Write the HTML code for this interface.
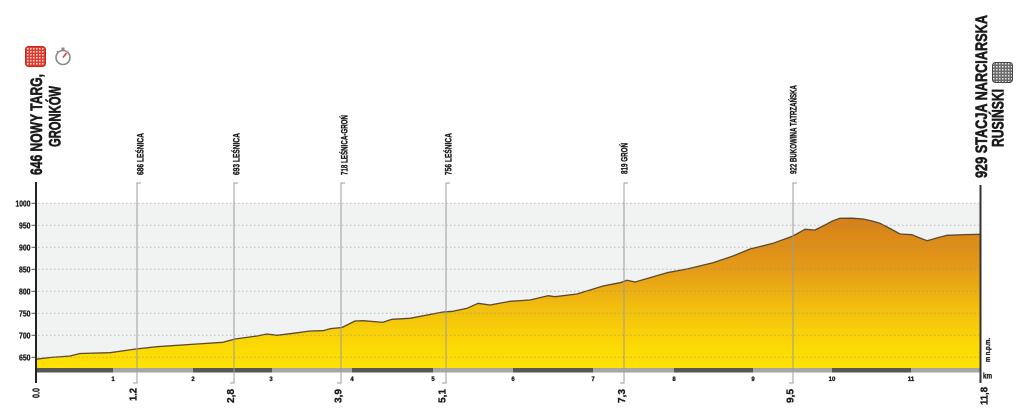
<!DOCTYPE html>
<html>
<head>
<meta charset="utf-8">
<style>
  html, body { margin: 0; padding: 0; background: #ffffff; }
  body { width: 1024px; height: 414px; overflow: hidden; }
  svg { display: block; }
  text { font-family: "Liberation Sans", "DejaVu Sans", sans-serif; font-weight: bold; fill: #1a1a1a; stroke: #1a1a1a; stroke-width: 0.3; }
  .big { stroke-width: 0.6; }
</style>
</head>
<body>
<svg width="1024" height="414" viewBox="0 0 1024 414" xmlns="http://www.w3.org/2000/svg">
  <defs>
    <linearGradient id="fillg" gradientUnits="userSpaceOnUse" x1="0" y1="218" x2="0" y2="368">
      <stop offset="0" stop-color="#d57f1b"/>
      <stop offset="0.35" stop-color="#e59c17"/>
      <stop offset="0.6" stop-color="#f2bf0f"/>
      <stop offset="0.85" stop-color="#fcd905"/>
      <stop offset="1" stop-color="#ffe200"/>
    </linearGradient>
    <pattern id="redchk" x="0" y="0" width="3" height="3" patternUnits="userSpaceOnUse">
      <rect width="3" height="3" fill="#e23b2e"/>
      <rect x="0" y="0" width="1.5" height="1.5" fill="#ffffff" opacity="0.85"/>
    </pattern>
    <pattern id="graychk" x="0" y="0" width="3" height="3" patternUnits="userSpaceOnUse">
      <rect width="3" height="3" fill="#6a6a6a"/>
      <rect x="0" y="0" width="1.5" height="1.5" fill="#ffffff" opacity="0.8"/>
    </pattern>
  </defs>

  <!-- plot background -->
  <rect x="36" y="203" width="944" height="165" fill="#f1f2f2"/>

  <!-- profile fill -->
  <path d="M36,359.2 L50,357.5 L70,356 L80,353.5 L110,352.7 L136,349 L157,346.7 L197,344 L223,342.3 L235,339 L257,336 L267,334 L277,335.3 L293,333.3 L310,331 L323,330.7 L330,328.7 L342,327.5 L355,321 L363,320.7 L383,322.3 L392,319.3 L410,318.3 L443,312 L453,311.3 L467,308.3 L478,303.3 L490,305 L510,301.3 L530,300 L548,295.7 L555,296.7 L577,294 L603,286 L620,282.7 L627,280.3 L635,282 L667,272.7 L687,269 L713,262.7 L733,256 L750,249 L773,243.3 L793,236 L805,229.3 L815,230 L825,225 L833,220.7 L840,218.3 L852,218.2 L863,219 L872,221 L880,223.3 L890,228.5 L900,234 L912,234.7 L920,238 L927,240.7 L935,238.5 L947,235.3 L965,234.6 L980,234.3 L980,368 L36,368 Z" fill="url(#fillg)"/>
  <path d="M36,359.2 L50,357.5 L70,356 L80,353.5 L110,352.7 L136,349 L157,346.7 L197,344 L223,342.3 L235,339 L257,336 L267,334 L277,335.3 L293,333.3 L310,331 L323,330.7 L330,328.7 L342,327.5 L355,321 L363,320.7 L383,322.3 L392,319.3 L410,318.3 L443,312 L453,311.3 L467,308.3 L478,303.3 L490,305 L510,301.3 L530,300 L548,295.7 L555,296.7 L577,294 L603,286 L620,282.7 L627,280.3 L635,282 L667,272.7 L687,269 L713,262.7 L733,256 L750,249 L773,243.3 L793,236 L805,229.3 L815,230 L825,225 L833,220.7 L840,218.3 L852,218.2 L863,219 L872,221 L880,223.3 L890,228.5 L900,234 L912,234.7 L920,238 L927,240.7 L935,238.5 L947,235.3 L965,234.6 L980,234.3" fill="none" stroke="#5a4a32" stroke-width="1.3" stroke-linejoin="round"/>

  <!-- gridlines -->
  <g stroke="#8a8a8a" stroke-width="1" stroke-dasharray="1.5,2.5" opacity="0.55">
    <line x1="38" y1="203.3" x2="979" y2="203.3"/>
    <line x1="38" y1="225.3" x2="979" y2="225.3"/>
    <line x1="38" y1="247.3" x2="979" y2="247.3"/>
    <line x1="38" y1="269.3" x2="979" y2="269.3"/>
    <line x1="38" y1="291.3" x2="979" y2="291.3"/>
    <line x1="38" y1="313.3" x2="979" y2="313.3"/>
    <line x1="38" y1="335.3" x2="979" y2="335.3"/>
    <line x1="38" y1="357.3" x2="979" y2="357.3"/>
  </g>

  <!-- km bar -->
  <g>
    <rect x="36" y="368" width="77" height="4.5" fill="#565656"/>
    <rect x="113" y="368" width="80" height="4.5" fill="#a6a6a6"/>
    <rect x="193" y="368" width="79" height="4.5" fill="#565656"/>
    <rect x="272" y="368" width="80" height="4.5" fill="#a6a6a6"/>
    <rect x="352" y="368" width="81" height="4.5" fill="#565656"/>
    <rect x="433" y="368" width="80" height="4.5" fill="#a6a6a6"/>
    <rect x="513" y="368" width="80" height="4.5" fill="#565656"/>
    <rect x="593" y="368" width="81" height="4.5" fill="#a6a6a6"/>
    <rect x="674" y="368" width="79" height="4.5" fill="#565656"/>
    <rect x="753" y="368" width="79" height="4.5" fill="#a6a6a6"/>
    <rect x="832" y="368" width="79" height="4.5" fill="#565656"/>
    <rect x="911" y="368" width="69" height="4.5" fill="#a6a6a6"/>
  </g>

  <!-- km numbers -->
  <g font-size="6" text-anchor="middle">
    <text x="113" y="381">1</text>
    <text x="193" y="381">2</text>
    <text x="271" y="381">3</text>
    <text x="352" y="381">4</text>
    <text x="433" y="381">5</text>
    <text x="513" y="381">6</text>
    <text x="593" y="381">7</text>
    <text x="674" y="381">8</text>
    <text x="753" y="381">9</text>
    <text x="832" y="381">10</text>
    <text x="911" y="381">11</text>
  </g>

  <!-- marker lines -->
  <g stroke="#9c9c9c" stroke-width="1" fill="none">
    <path d="M141,183 L137,183 L137,383 L133,383"/>
    <path d="M238,183 L234,183 L234,383 L230,383"/>
    <path d="M345,183 L341,183 L341,383 L337,383"/>
    <path d="M450,183 L446,183 L446,383 L442,383"/>
    <path d="M628,183 L624,183 L624,383 L620,383"/>
    <path d="M797,183 L793,183 L793,383 L789,383"/>
  </g>

  <!-- axes -->
  <line x1="36" y1="182" x2="36" y2="383" stroke="#222" stroke-width="2"/>
  <line x1="980.5" y1="185" x2="980.5" y2="383" stroke="#333" stroke-width="2"/>

  <!-- y ticks -->
  <g stroke="#555" stroke-width="1">
    <line x1="31.5" y1="203.3" x2="35" y2="203.3"/>
    <line x1="31.5" y1="225.3" x2="35" y2="225.3"/>
    <line x1="31.5" y1="247.3" x2="35" y2="247.3"/>
    <line x1="31.5" y1="269.3" x2="35" y2="269.3"/>
    <line x1="31.5" y1="291.3" x2="35" y2="291.3"/>
    <line x1="31.5" y1="313.3" x2="35" y2="313.3"/>
    <line x1="31.5" y1="335.3" x2="35" y2="335.3"/>
    <line x1="31.5" y1="357.3" x2="35" y2="357.3"/>
  </g>
  <g font-size="8.5" text-anchor="end">
    <text x="30.5" y="206.3" textLength="15" lengthAdjust="spacingAndGlyphs">1000</text>
    <text x="30.5" y="228.3" textLength="11.5" lengthAdjust="spacingAndGlyphs">950</text>
    <text x="30.5" y="250.3" textLength="11.5" lengthAdjust="spacingAndGlyphs">900</text>
    <text x="30.5" y="272.3" textLength="11.5" lengthAdjust="spacingAndGlyphs">850</text>
    <text x="30.5" y="294.3" textLength="11.5" lengthAdjust="spacingAndGlyphs">800</text>
    <text x="30.5" y="316.3" textLength="11.5" lengthAdjust="spacingAndGlyphs">750</text>
    <text x="30.5" y="338.3" textLength="11.5" lengthAdjust="spacingAndGlyphs">700</text>
    <text x="30.5" y="360.3" textLength="11.5" lengthAdjust="spacingAndGlyphs">650</text>
  </g>

  <!-- marker labels (top) -->
  <g font-size="9">
    <text transform="translate(143.5,175) rotate(-90)" textLength="42" lengthAdjust="spacingAndGlyphs">686 LEŚNICA</text>
    <text transform="translate(239.5,175) rotate(-90)" textLength="42" lengthAdjust="spacingAndGlyphs">693 LEŚNICA</text>
    <text transform="translate(347.5,175) rotate(-90)" textLength="60" lengthAdjust="spacingAndGlyphs">718 LEŚNICA-GROŃ</text>
    <text transform="translate(451.5,175) rotate(-90)" textLength="42" lengthAdjust="spacingAndGlyphs">756 LEŚNICA</text>
    <text transform="translate(627.5,174) rotate(-90)" textLength="31" lengthAdjust="spacingAndGlyphs">819 GROŃ</text>
    <text transform="translate(796.5,174) rotate(-90)" textLength="89" lengthAdjust="spacingAndGlyphs">922 BUKOWINA TATRZAŃSKA</text>
  </g>

  <!-- bottom distance labels -->
  <g font-size="10" text-anchor="end">
    <text transform="translate(39.5,388) rotate(-90)" textLength="10" lengthAdjust="spacingAndGlyphs">0.0</text>
    <text transform="translate(136.5,388) rotate(-90)" textLength="13" lengthAdjust="spacingAndGlyphs">1.2</text>
    <text transform="translate(234,389) rotate(-90)" textLength="14" lengthAdjust="spacingAndGlyphs">2,8</text>
    <text transform="translate(341.5,389) rotate(-90)" textLength="14" lengthAdjust="spacingAndGlyphs">3,9</text>
    <text transform="translate(445.5,389) rotate(-90)" textLength="14" lengthAdjust="spacingAndGlyphs">5,1</text>
    <text transform="translate(625,389) rotate(-90)" textLength="14" lengthAdjust="spacingAndGlyphs">7,3</text>
    <text transform="translate(793.5,389) rotate(-90)" textLength="14" lengthAdjust="spacingAndGlyphs">9,5</text>
    <text transform="translate(987.5,387) rotate(-90)" textLength="18" lengthAdjust="spacingAndGlyphs">11,8</text>
  </g>

  <!-- right axis small labels -->
  <text transform="translate(990,362) rotate(-90)" font-size="7" textLength="24" lengthAdjust="spacingAndGlyphs">m n.p.m.</text>
  <text x="983" y="378.5" font-size="8" textLength="9" lengthAdjust="spacingAndGlyphs">km</text>

  <!-- big start labels -->
  <text class="big" transform="translate(42,175) rotate(-90)" font-size="17" textLength="101" lengthAdjust="spacingAndGlyphs">646 NOWY TARG,</text>
  <text class="big" transform="translate(60.5,147) rotate(-90)" font-size="17" textLength="61" lengthAdjust="spacingAndGlyphs">GRONKÓW</text>

  <!-- big finish labels -->
  <text class="big" transform="translate(987,178) rotate(-90)" font-size="16.5" textLength="163" lengthAdjust="spacingAndGlyphs">929 STACJA NARCIARSKA</text>
  <text class="big" transform="translate(1003.5,147) rotate(-90)" font-size="16.5" textLength="58" lengthAdjust="spacingAndGlyphs">RUSIŃSKI</text>

  <!-- start icon: red checkered -->
  <rect x="25.5" y="46.5" width="20" height="20" rx="3" fill="url(#redchk)" stroke="#c42a1e" stroke-width="1"/>
  <!-- stopwatch -->
  <g>
    <rect x="61.5" y="47.5" width="3" height="2.5" fill="#888"/>
    <circle cx="63" cy="57.5" r="7" fill="#ffffff" stroke="#8a8a8a" stroke-width="1.6"/>
    <line x1="63" y1="57.5" x2="66.5" y2="53" stroke="#e23b2e" stroke-width="1.5"/>
    <line x1="57" y1="51" x2="58.5" y2="52.5" stroke="#888" stroke-width="1.2"/>
  </g>

  <!-- finish icon: gray checkered -->
  <rect x="992.5" y="62.5" width="20" height="20" rx="3" fill="url(#graychk)" stroke="#444" stroke-width="1"/>
</svg>
</body>
</html>
